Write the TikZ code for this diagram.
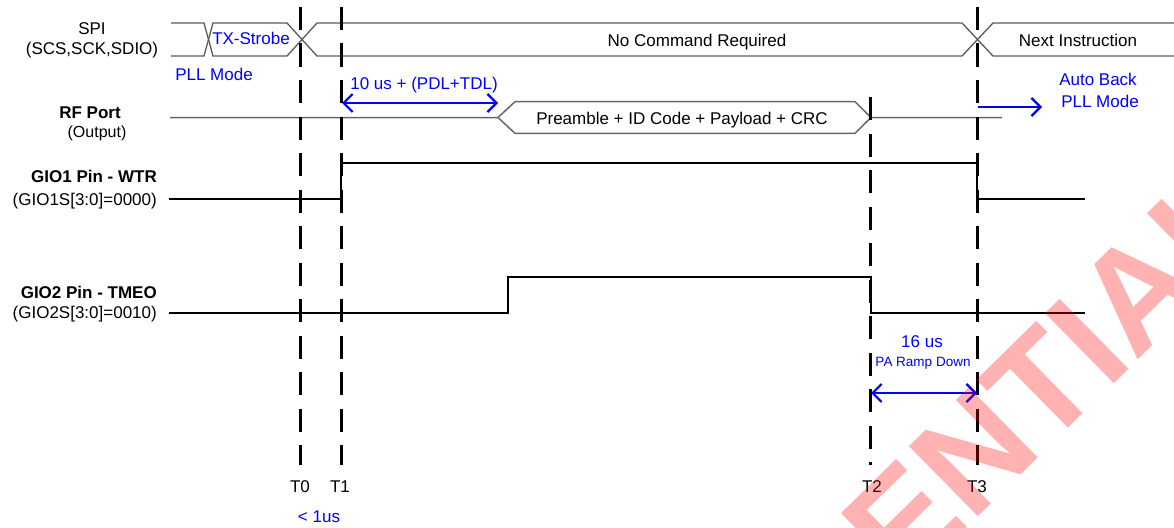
\documentclass[tikz,border=0pt]{standalone}
\usepackage{fontspec}
\setmainfont{Liberation Sans}
\usetikzlibrary{arrows.meta}
\begin{document}
\begin{tikzpicture}[x=1pt,y=-1pt,
 txt/.style={font=\fontsize{17}{20}\selectfont, inner sep=0pt, anchor=base},
 btxt/.style={txt, font=\fontsize{17}{20}\selectfont\bfseries},
 stxt/.style={txt, font=\fontsize{13.5}{16}\selectfont},
 blu/.style={text=blue},
 bus/.style={draw=black!65, line width=1.3pt},
 sig/.style={draw=black, line width=2pt},
 rf/.style={draw=black!60, line width=1.5pt},
 tline/.style={draw=black, line width=3pt, dash pattern=on 23pt off 13.5pt},
 barb/.tip={Straight Barb[length=9pt,width=18pt]},
 dim/.style={draw=blue, line width=2.2pt},
 ]
\useasboundingbox (0,0) rectangle (1174,527);

% left labels
\node[txt] (spi) at (92,35) {SPI};
\node[txt] (spisub) at (92,55) {(SCS,SCK,SDIO)};
\node[txt,blu] (pll) at (214,80) {PLL Mode};
\node[btxt] (rf) at (90,118) {RF Port};
\node[txt,font=\fontsize{16}{19}\selectfont] (rfsub) at (97,137) {(Output)};
\node[btxt,anchor=base east] (g1) at (157,182) {GIO1 Pin - WTR};
\node[txt,anchor=base east] (g1sub) at (157,205) {(GIO1S[3:0]=0000)};
\node[btxt,anchor=base east] (g2) at (157,298) {GIO2 Pin - TMEO};
\node[txt,anchor=base east] (g2sub) at (157,318) {(GIO2S[3:0]=0010)};

% SPI bus
\draw[bus] (171,23) -- (204,23) -- (213,56) -- (287,56) -- (317,23) -- (962,23) -- (993,56) -- (1174,56);
\draw[bus] (171,56) -- (204,56) -- (213,23) -- (287,23) -- (317,56) -- (962,56) -- (993,23) -- (1174,23);
\node[txt,blu] (txs) at (251,45) {TX-Strobe};
\node[txt] (ncr) at (697,46) {No Command Required};
\node[txt] (next) at (1078,46) {Next Instruction};

% RF port
\draw[rf] (170,117.5) -- (498,117.5) -- (515,101.7) -- (855,101.7) -- (871,117.5) -- (1002,117.5);
\draw[rf] (498,117.5) -- (515,133.3) -- (855,133.3) -- (871,117.5);
\node[txt] (pkt) at (682,124) {Preamble + ID Code + Payload + CRC};

% GIO signals
\draw[sig] (169,199) -- (341,199) -- (341,163) -- (977,163) -- (977,199) -- (1085,199);
\draw[sig] (169,313) -- (508,313) -- (508,277) -- (871,277) -- (871,313) -- (1085,313);

% timing lines
\coordinate (t0a) at (300,7);   \coordinate (t0b) at (300,465);
\coordinate (t1a) at (341,7);   \coordinate (t1b) at (341,465);
\coordinate (t2a) at (870,97);  \coordinate (t2b) at (870,465);
\coordinate (t3a) at (977,7);   \coordinate (t3b) at (977,465);
\draw[tline] (t0a) -- (t0b);
\draw[tline] (t1a) -- (t1b);
\draw[tline] (t2a) -- (t2b);
\draw[tline] (t3a) -- (t3b);
\node[txt] (T0) at (300,492) {T0};
\node[txt] (T1) at (340,492) {T1};
\node[txt] (T2) at (872,492) {T2};
\node[txt] (T3) at (977,492) {T3};
\node[txt,blu] (lt1) at (319,522) {< 1us};

% dimension arrows
\coordinate (d1a) at (342,103); \coordinate (d1b) at (498,103);
\draw[dim,barb-barb] (d1a) -- (d1b);
\node[txt,blu] (d1t) at (424,89) {10 us + (PDL+TDL)};

\coordinate (aba) at (978,107); \coordinate (abb) at (1042,107);
\draw[dim,-barb] (aba) -- (abb);
\node[txt,blu] (ab1) at (1098,85) {Auto Back};
\node[txt,blu] (ab2) at (1100,107) {PLL Mode};

\coordinate (d2a) at (871,393); \coordinate (d2b) at (977,393);
\draw[dim,barb-barb] (d2a) -- (d2b);
\node[txt,blu] (d2t) at (922,347) {16 us};
\node[stxt,blu] (d2s) at (923,366) {PA Ramp Down};

% watermark
\node[rotate=44.5, anchor=base west, text=red, text opacity=0.3, inner sep=0pt,
      font=\fontsize{143}{143}\selectfont\bfseries] (wm) at (512,975) {CONFIDENTIAL};
\end{tikzpicture}
\end{document}
